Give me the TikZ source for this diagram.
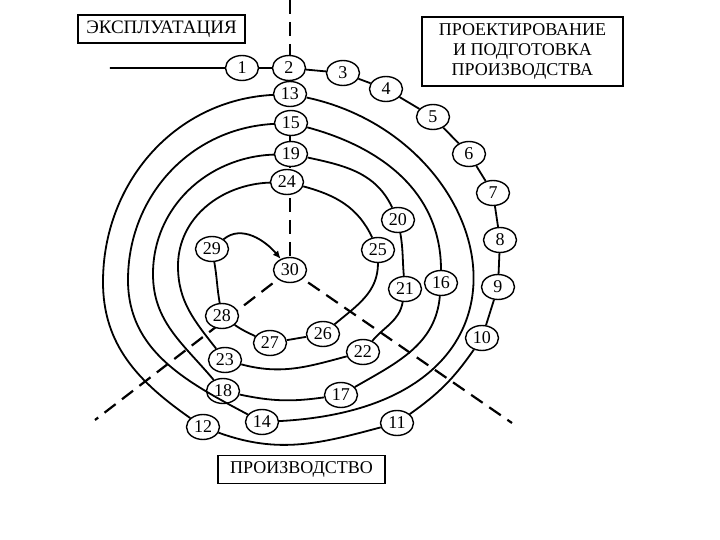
\documentclass[tikz,border=0pt]{standalone}
\usepackage{fontspec}
\setmainfont{Liberation Serif}
\usepackage{tikz}
\usetikzlibrary{arrows.meta,shapes.geometric,backgrounds}
\tikzset{
  stage/.style={ellipse,draw,fill=white,line width=0.7pt,inner sep=0pt,minimum width=16.5pt,minimum height=12.5pt,font=\fontsize{9}{10}\selectfont},
  phase/.style={draw,line width=0.6pt,inner sep=0pt,align=center,minimum width=83.5pt,minimum height=14pt,font=\fontsize{9}{10}\selectfont},
  spiral/.style={draw,line width=0.9pt},
  divider/.style={draw,line width=1.1pt,dash pattern=on 7pt off 4pt},
}

\begin{document}
\begin{tikzpicture}[x=0.5pt,y=0.5pt]
  \useasboundingbox (0,0) rectangle (720,-540);
  % phases
  \node[phase,font=\fontsize{9.5}{10}\selectfont] (exploit) at (161.5,-29) {ЭКСПЛУАТАЦИЯ};
  \node[phase,minimum width=100.5pt,minimum height=34.5pt] (design) at (522.5,-51.5) {ПРОЕКТИРОВАНИЕ\\И ПОДГОТОВКА\\ПРОИЗВОДСТВА};
  \node[phase] (make) at (301.5,-469.5) {ПРОИЗВОДСТВО};
  % stages
  \node[stage] (n1) at (242,-68) {1};
  \node[stage] (n2) at (289,-68) {2};
  \node[stage] (n3) at (343,-73) {3};
  \node[stage] (n4) at (386,-89) {4};
  \node[stage] (n5) at (433,-117) {5};
  \node[stage] (n6) at (469,-154) {6};
  \node[stage] (n7) at (493,-193) {7};
  \node[stage] (n8) at (500,-240) {8};
  \node[stage] (n9) at (498,-287) {9};
  \node[stage] (n10) at (482,-338) {10};
  \node[stage] (n11) at (397,-423) {11};
  \node[stage] (n12) at (203,-427) {12};
  \node[stage] (n13) at (290,-94) {13};
  \node[stage] (n14) at (262,-422) {14};
  \node[stage] (n15) at (291,-123) {15};
  \node[stage] (n16) at (441,-283) {16};
  \node[stage] (n17) at (341,-395) {17};
  \node[stage] (n18) at (223,-391) {18};
  \node[stage] (n19) at (291,-154) {19};
  \node[stage] (n20) at (398,-220) {20};
  \node[stage] (n21) at (405,-289) {21};
  \node[stage] (n22) at (363,-352) {22};
  \node[stage] (n23) at (225,-360) {23};
  \node[stage] (n24) at (287,-182) {24};
  \node[stage] (n25) at (378,-250) {25};
  \node[stage] (n26) at (323,-334) {26};
  \node[stage] (n27) at (270,-343) {27};
  \node[stage] (n28) at (222,-316) {28};
  \node[stage] (n29) at (212,-249) {29};
  \node[stage] (n30) at (290,-270) {30};
  \coordinate (entry) at (110,-68);
  \coordinate (top) at (290,0);
  \coordinate (lowleft) at (95,-420);
  \coordinate (lowright) at (512,-423);
  % leftmost points of the turns
  \coordinate (w1) at (103,-282);
  \coordinate (w2) at (128,-280);
  \coordinate (w3) at (153,-274);
  \coordinate (w4) at (178,-266);
  % sector borders
  \begin{scope}[on background layer]
    \draw[divider] (top) -- (n30.center);
    \draw[divider] (n30.center) -- (lowleft);
    \draw[divider] (n30.center) -- (lowright);
  \end{scope}
  % spiral
  \draw[spiral] (entry) -- (n1) -- (n2) -- (n3) -- (n4) -- (n5) -- (n6) -- (n7) -- (n8) -- (n9) -- (n10);
  \draw[spiral] (n10) to[bend left=10] (n11);
  \draw[spiral] (n11) to[out=195,in=-20] (n12);
  \draw[spiral] (n12) to[out=145,in=-90] (w1) to[out=90,in=183] (n13);
  \draw[spiral] (n13) .. controls +(-12:215) and +(3:305) .. (n14);
  \draw[spiral] (n14) to[out=152,in=-90] (w2) to[out=90,in=183] (n15);
  \draw[spiral] (n15) .. controls +(-15:95) and +(90:90) .. (n16);
  \draw[spiral] (n16) to[out=-95,in=30] (n17);
  \draw[spiral] (n17) to[out=188,in=-12] (n18);
  \draw[spiral] (n18) to[out=130,in=-90] (w3) to[out=90,in=182] (n19);
  \draw[spiral] (n19) to[out=-12,in=115] (n20);
  \draw[spiral] (n20) to[out=-80,in=95] (n21);
  \draw[spiral] (n21) to[out=-100,in=50] (n22);
  \draw[spiral] (n22) to[out=195,in=-15] (n23);
  \draw[spiral] (n23) to[out=128,in=-90] (w4) to[out=90,in=182] (n24);
  \draw[spiral] (n24) to[out=-15,in=115] (n25);
  \draw[spiral] (n25) to[out=-90,in=40] (n26);
  \draw[spiral] (n26) -- (n27);
  \draw[spiral] (n27) to[out=155,in=-35] (n28);
  \draw[spiral] (n28) to[out=100,in=-80] (n29);
  \draw[spiral,-{Latex[length=4pt,width=3.5pt]}] (n29) to[out=40,in=130] (n30);
\end{tikzpicture}
\end{document}
